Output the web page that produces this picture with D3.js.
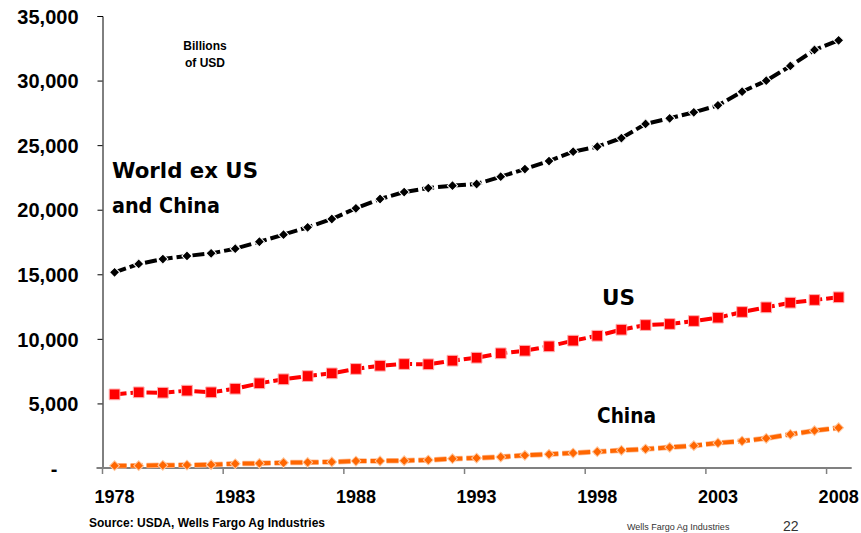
<!DOCTYPE html>
<html><head><meta charset="utf-8">
<script src="https://cdn.jsdelivr.net/npm/d3@7"></script>
<style>
body{margin:0;background:#fff;}
svg{display:block;font-family:"Liberation Sans",Arial,sans-serif;}
</style></head>
<body><svg id="c" width="861" height="533"></svg>
<script>
const years = d3.range(1978, 2009);
const worldExUS = [15150,15800,16180,16420,16620,16980,17520,18070,18640,19280,20110,20830,21370,21680,21860,21990,22560,23150,23770,24490,24880,25550,26640,27080,27540,28080,29140,29990,31130,32370,33120];
const us = [5700,5860,5830,5990,5860,6140,6560,6870,7120,7330,7670,7920,8050,8030,8310,8540,8880,9080,9420,9860,10240,10710,11070,11150,11380,11640,12080,12440,12800,13010,13220];
const china = [180,180,210,230,260,330,360,410,440,470,540,550,570,620,720,770,850,980,1060,1160,1260,1370,1470,1600,1730,1940,2090,2300,2610,2890,3120];
const yTicks = [0,5000,10000,15000,20000,25000,30000,35000];
const xTickYears = [1978,1983,1988,1993,1998,2003,2008];

const svg = d3.select("#c");
const L = 102.5, R = 850.7, T = 16, B = 468;
const x = d3.scaleBand().domain(years).range([L, R]).padding(0);
const y = d3.scaleLinear().domain([0, 35000]).range([B, T]);
const cx = d => x(d) + x.bandwidth()/2;

// Y axis
const yAxis = d3.axisLeft(y).tickValues(yTicks).tickSize(5).tickPadding(0)
  .tickFormat(d => d === 0 ? "-" : d3.format(",")(d));
const gy = svg.append("g").attr("transform", `translate(${L},0)`).call(yAxis);
gy.select(".domain").attr("stroke", "#000").attr("stroke-width", 1);
gy.selectAll(".tick line").attr("stroke", "#000");
gy.selectAll(".tick text").attr("font-size", 20).attr("font-weight", "bold")
  .attr("fill", "#000").attr("x", d => d === 0 ? -45 : -24)
  .attr("dy", "0.36em");

// X axis
const xAxis = d3.axisBottom(x).tickValues(xTickYears).tickSize(0).tickPadding(0);
const gx = svg.append("g").attr("transform", `translate(0,${B})`).call(xAxis);
gx.select(".domain").remove();
gx.selectAll(".tick text").attr("font-size", 18).attr("font-weight", "bold")
  .attr("fill", "#000").attr("y", 35).attr("dy", 0);
svg.append("line").attr("x1", L - 6).attr("x2", R + 1).attr("y1", B).attr("y2", B)
  .attr("stroke", "#808080").attr("stroke-width", 2);
svg.append("g").selectAll("line").data(xTickYears).join("line")
  .attr("x1", d => x(d)).attr("x2", d => x(d)).attr("y1", B).attr("y2", B + 6)
  .attr("stroke", "#808080").attr("stroke-width", 1.5);

// Series
const series = [
  {name: "World", vals: worldExUS, color: "#000000", marker: "diamond", size: 52, stroke: "#fff"},
  {name: "US", vals: us, color: "#FF0000", marker: "square", size: 115, stroke: "#ffb0b0"},
  {name: "China", vals: china, color: "#FF6600", marker: "diamond", size: 48, stroke: "#ffc8a0"}
];
series.forEach(s => {
  const line = d3.line().x((d, i) => cx(years[i])).y(d => y(d));
  if (s.name === "China") {
    svg.append("path").datum(s.vals).attr("d", line).attr("fill", "none")
      .attr("stroke", "#FFC09A").attr("stroke-width", 5.5).attr("stroke-dasharray", "12,4");
  }
  svg.append("path").datum(s.vals).attr("d", line).attr("fill", "none")
    .attr("stroke", s.color).attr("stroke-width", 4).attr("stroke-dasharray", "12,4");
  const sym = d3.symbol().type(d3.symbolSquare).size(s.size);
  const rot = s.marker === "diamond" ? 45 : 0;
  svg.append("g").selectAll("path").data(s.vals).join("path")
    .attr("d", sym).attr("transform", (d, i) => `translate(${cx(years[i])},${y(d)}) rotate(${rot})`)
    .attr("fill", s.color).attr("stroke", s.stroke).attr("stroke-width", 1);
});

// Annotations
const ann = svg.append("g").attr("font-family", "'Comic Sans MS','DejaVu Sans',sans-serif")
  .attr("font-weight", "bold").attr("fill", "#000");
ann.append("text").attr("x", 112).attr("y", 178).attr("font-size", 21).attr("textLength", 146).attr("lengthAdjust", "spacingAndGlyphs").text("World ex US");
ann.append("text").attr("x", 112).attr("y", 213).attr("font-size", 21).attr("textLength", 108).attr("lengthAdjust", "spacingAndGlyphs").text("and China");
ann.append("text").attr("x", 602).attr("y", 305).attr("font-size", 21).attr("textLength", 33).attr("lengthAdjust", "spacingAndGlyphs").text("US");
ann.append("text").attr("x", 597).attr("y", 423).attr("font-size", 21).attr("textLength", 59).attr("lengthAdjust", "spacingAndGlyphs").text("China");

svg.append("text").attr("x", 205).attr("y", 50).attr("text-anchor", "middle")
  .attr("font-size", 12).attr("font-weight", "bold").text("Billions");
svg.append("text").attr("x", 205).attr("y", 66.5).attr("text-anchor", "middle")
  .attr("font-size", 12).attr("font-weight", "bold").text("of USD");

svg.append("text").attr("x", 89).attr("y", 527).attr("font-size", 12).attr("font-weight", "bold")
  .text("Source: USDA, Wells Fargo Ag Industries");
svg.append("text").attr("x", 627).attr("y", 530).attr("font-size", 9).attr("fill", "#333")
  .text("Wells Fargo Ag Industries");
svg.append("text").attr("x", 783).attr("y", 531).attr("font-size", 14).attr("fill", "#333")
  .text("22");
</script></body></html>
